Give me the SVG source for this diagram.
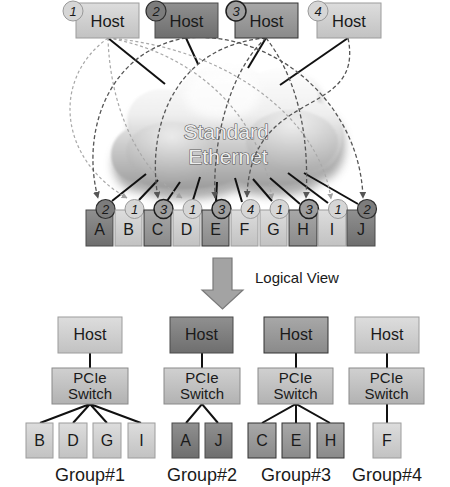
<svg xmlns="http://www.w3.org/2000/svg" width="450" height="487" viewBox="0 0 450 487">
<defs>
<linearGradient id="gLight" x1="0" y1="0" x2="0" y2="1"><stop offset="0" stop-color="#dddddd"/><stop offset="1" stop-color="#c2c2c2"/></linearGradient>
<linearGradient id="gDark" x1="0" y1="0" x2="0" y2="1"><stop offset="0" stop-color="#909090"/><stop offset="1" stop-color="#6e6e6e"/></linearGradient>
<linearGradient id="gMed" x1="0" y1="0" x2="0" y2="1"><stop offset="0" stop-color="#a8a8a8"/><stop offset="1" stop-color="#8a8a8a"/></linearGradient>
<linearGradient id="gSw" x1="0" y1="0" x2="0" y2="1"><stop offset="0" stop-color="#d0d0d0"/><stop offset="1" stop-color="#b2b2b2"/></linearGradient>
<linearGradient id="gCloud" x1="0" y1="0" x2="0" y2="1"><stop offset="0" stop-color="#ffffff"/><stop offset="0.4" stop-color="#efefef"/><stop offset="1" stop-color="#9c9c9c"/></linearGradient>
<radialGradient id="gLobe" cx="0.5" cy="0.25" r="0.75"><stop offset="0" stop-color="#f6f6f6"/><stop offset="1" stop-color="#a8a8a8"/></radialGradient>
<filter id="soft" x="-20%" y="-20%" width="140%" height="140%"><feGaussianBlur stdDeviation="0.8"/></filter>
<filter id="shadow" x="-20%" y="-20%" width="140%" height="150%"><feGaussianBlur stdDeviation="5"/></filter>
<marker id="mL" viewBox="0 0 10 10" refX="9" refY="5" markerWidth="6" markerHeight="6" orient="auto" markerUnits="userSpaceOnUse"><path d="M0,0 L10,5 L0,10 Z" fill="#a0a0a0"/></marker>
<marker id="mD" viewBox="0 0 10 10" refX="9" refY="5" markerWidth="7" markerHeight="7" orient="auto" markerUnits="userSpaceOnUse"><path d="M0,0 L10,5 L0,10 Z" fill="#555555"/></marker>
<style>
text{font-family:"Liberation Sans",Arial,sans-serif;fill:#1a1a1a}
.lt{fill:url(#gLight);stroke:#9c9c9c;stroke-width:1}
.dk{fill:url(#gDark);stroke:#4a4a4a;stroke-width:1}
.md{fill:url(#gMed);stroke:#333333;stroke-width:1}
.sw{fill:url(#gSw);stroke:#8a8a8a;stroke-width:1}
.h{font-size:16.5px;text-anchor:middle}
.l{font-size:16px;text-anchor:middle}
.n{font-size:13px;font-style:italic;text-anchor:middle}
.c1{fill:#d6d6d6;stroke:#999999;stroke-width:1}
.c2{fill:#7c7c7c;stroke:#2e2e2e;stroke-width:1.2}
.c3{fill:#9e9e9e;stroke:#1e1e1e;stroke-width:1.5}
.solid{stroke:#111;stroke-width:2;fill:none}
.dl{stroke:#a8a8a8;stroke-width:1.2;fill:none;stroke-dasharray:3,2.5;marker-end:url(#mL)}
.dd{stroke:#555;stroke-width:1.3;fill:none;stroke-dasharray:4,2.5;marker-end:url(#mD)}
.tree{stroke:#111;stroke-width:2;fill:none}
.g{font-size:18px;text-anchor:middle}
.ct{font-size:21px;text-anchor:middle;fill:#ededed;stroke:#555555;stroke-width:1.1;paint-order:stroke}
</style>
</defs>
<rect width="450" height="487" fill="#ffffff"/>

<g id="cloud">
<path d="M140,186 C108,186 100,144 130,132 C122,104 150,86 178,96 C190,66 240,59 258,79 C280,62 325,76 318,106 C350,112 352,169 318,176 C305,194 250,192 235,184 C210,196 160,196 140,186 Z" fill="#666" opacity="0.55" filter="url(#shadow)" transform="translate(2,6)"/>
<path d="M140,182 C108,182 100,140 130,128 C122,100 150,82 178,92 C190,62 240,55 258,75 C280,58 325,72 318,102 C350,108 352,165 318,172 C305,190 250,188 235,180 C210,192 160,192 140,182 Z" fill="url(#gCloud)" filter="url(#soft)"/>
<ellipse cx="172" cy="152" rx="46" ry="30" fill="url(#gLobe)" opacity="0.65" filter="url(#soft)"/>
<ellipse cx="292" cy="142" rx="46" ry="32" fill="url(#gLobe)" opacity="0.55" filter="url(#soft)"/>
<ellipse cx="222" cy="95" rx="38" ry="24" fill="#ffffff" opacity="0.7" filter="url(#shadow)"/>
<text class="ct" x="226" y="139">Standard</text>
<text class="ct" x="228" y="164">Ethernet</text>
</g>

<g id="connectors">
<line class="solid" x1="108" y1="38" x2="165" y2="84"/>
<line class="solid" x1="186" y1="38" x2="198" y2="64"/>
<line class="solid" x1="266" y1="38" x2="248" y2="68"/>
<line class="solid" x1="348" y1="38" x2="280" y2="85"/>
<line class="solid" x1="146" y1="174" x2="112" y2="201"/>
<line class="solid" x1="158" y1="180" x2="139" y2="200"/>
<line class="solid" x1="180" y1="182" x2="167" y2="201"/>
<line class="solid" x1="200" y1="177" x2="193" y2="200"/>
<line class="solid" x1="217" y1="182" x2="216" y2="201"/>
<line class="solid" x1="235" y1="178" x2="242" y2="202"/>
<line class="solid" x1="253" y1="179" x2="272" y2="201"/>
<line class="solid" x1="270" y1="178" x2="300" y2="204"/>
<line class="solid" x1="288" y1="173" x2="328" y2="203"/>
<line class="solid" x1="304" y1="173" x2="358" y2="204"/>
<path class="dl" d="M108,38 C50,80 60,160 127,198"/>
<path class="dl" d="M108,38 C110,110 140,170 182,198"/>
<path class="dl" d="M108,38 C190,52 260,110 272,199"/>
<path class="dl" d="M108,38 C230,48 320,120 331,199"/>
<path class="dd" d="M186,38 C110,50 80,130 98,198"/>
<path class="dd" d="M186,38 C270,30 360,100 363,198"/>
<path class="dd" d="M266,38 C180,45 145,120 158,198"/>
<path class="dd" d="M266,38 C235,65 212,130 215,198"/>
<path class="dd" d="M266,38 C295,75 310,130 306,198"/>
<path class="dd" d="M348,38 C365,120 250,85 247,197"/>
<line class="tree" x1="90" y1="353" x2="90" y2="368"/>
<polyline class="tree" points="40,423 90,404 73,423"/>
<polyline class="tree" points="107,423 90,404 141,423"/>
<line class="tree" x1="202" y1="353" x2="202" y2="368"/>
<polyline class="tree" points="186,423 202,404 218,423"/>
<line class="tree" x1="296" y1="353" x2="296" y2="368"/>
<polyline class="tree" points="262,423 296,404 330,423"/>
<line class="tree" x1="296" y1="404" x2="296" y2="423"/>
<line class="tree" x1="387" y1="353" x2="387" y2="368"/>
<line class="tree" x1="387" y1="404" x2="387" y2="423"/>
</g>

<g id="host1"><rect class="lt" x="76" y="3" width="63" height="35"/><text class="h" x="107.5" y="27">Host</text><circle class="c1" cx="73" cy="11" r="10"/><text class="n" x="73" y="16">1</text></g>
<g id="host2"><rect class="dk" x="155" y="3" width="63" height="35"/><text class="h" x="186.5" y="27">Host</text><circle class="c2" cx="156" cy="11" r="10"/><text class="n" x="156" y="16">2</text></g>
<g id="host3"><rect class="md" x="235" y="3" width="63" height="35"/><text class="h" x="266.5" y="27">Host</text><circle class="c3" cx="236" cy="11" r="10"/><text class="n" x="236" y="16">3</text></g>
<g id="host4"><rect class="lt" x="317" y="3" width="64" height="35"/><text class="h" x="349" y="27">Host</text><circle class="c1" cx="318" cy="11" r="10"/><text class="n" x="318" y="16">4</text></g>

<g id="portA"><rect class="dk" x="86" y="210" width="27" height="36"/><text class="l" x="99.5" y="235">A</text><circle class="c2" cx="105.5" cy="209" r="9.5"/><text class="n" x="105.5" y="214">2</text></g>
<g id="portB"><rect class="lt" x="115" y="210" width="27" height="36"/><text class="l" x="128.5" y="235">B</text><circle class="c1" cx="134.5" cy="209" r="9.5"/><text class="n" x="134.5" y="214">1</text></g>
<g id="portC"><rect class="md" x="144" y="210" width="27" height="36"/><text class="l" x="157.5" y="235">C</text><circle class="c3" cx="163.5" cy="209" r="9.5"/><text class="n" x="163.5" y="214">3</text></g>
<g id="portD"><rect class="lt" x="173" y="210" width="27" height="36"/><text class="l" x="186.5" y="235">D</text><circle class="c1" cx="192.5" cy="209" r="9.5"/><text class="n" x="192.5" y="214">1</text></g>
<g id="portE"><rect class="md" x="202" y="210" width="27" height="36"/><text class="l" x="215.5" y="235">E</text><circle class="c3" cx="221.5" cy="209" r="9.5"/><text class="n" x="221.5" y="214">3</text></g>
<g id="portF"><rect class="lt" x="231" y="210" width="27" height="36"/><text class="l" x="244.5" y="235">F</text><circle class="c1" cx="250.5" cy="209" r="9.5"/><text class="n" x="250.5" y="214">4</text></g>
<g id="portG"><rect class="lt" x="260" y="210" width="27" height="36"/><text class="l" x="273.5" y="235">G</text><circle class="c1" cx="279.5" cy="209" r="9.5"/><text class="n" x="279.5" y="214">1</text></g>
<g id="portH"><rect class="md" x="289" y="210" width="28" height="36"/><text class="l" x="303" y="235">H</text><circle class="c3" cx="309" cy="209" r="9.5"/><text class="n" x="309" y="214">3</text></g>
<g id="portI"><rect class="lt" x="318" y="210" width="28" height="36"/><text class="l" x="332" y="235">I</text><circle class="c1" cx="338" cy="209" r="9.5"/><text class="n" x="338" y="214">1</text></g>
<g id="portJ"><rect class="dk" x="347" y="210" width="28" height="36"/><text class="l" x="361" y="235">J</text><circle class="c2" cx="367" cy="209" r="9.5"/><text class="n" x="367" y="214">2</text></g>

<g id="logical-arrow"><path d="M213,258 L232,258 L232,290 L243,290 L222.5,309 L202,290 L213,290 Z" fill="#a3a3a3" stroke="#7a7a7a" stroke-width="1.2"/><text x="255" y="283" style="font-size:15px">Logical View</text></g>

<g id="group1">
<rect class="lt" x="58" y="317" width="64" height="36"/><text class="l" x="90" y="340">Host</text>
<rect class="sw" x="52" y="368" width="76" height="36"/><text class="l" x="90" y="383" style="font-size:15px">PCIe</text><text class="l" x="90" y="399" style="font-size:15px">Switch</text>
<rect class="lt" x="26" y="423" width="27" height="35"/><text class="l" x="39.5" y="446">B</text>
<rect class="lt" x="59" y="423" width="28" height="35"/><text class="l" x="73" y="446">D</text>
<rect class="lt" x="93" y="423" width="28" height="35"/><text class="l" x="107" y="446">G</text>
<rect class="lt" x="128" y="423" width="27" height="35"/><text class="l" x="141.5" y="446">I</text>
<text class="g" x="90" y="481">Group#1</text>
</g>
<g id="group2">
<rect class="dk" x="170" y="317" width="63" height="36"/><text class="l" x="201.5" y="340">Host</text>
<rect class="sw" x="164" y="368" width="76" height="36"/><text class="l" x="202" y="383" style="font-size:15px">PCIe</text><text class="l" x="202" y="399" style="font-size:15px">Switch</text>
<rect class="dk" x="172" y="423" width="27" height="35"/><text class="l" x="185.5" y="446">A</text>
<rect class="dk" x="205" y="423" width="27" height="35"/><text class="l" x="218.5" y="446">J</text>
<text class="g" x="202" y="481">Group#2</text>
</g>
<g id="group3">
<rect class="md" x="264" y="317" width="64" height="36"/><text class="l" x="296" y="340">Host</text>
<rect class="sw" x="258" y="368" width="75" height="36"/><text class="l" x="295.5" y="383" style="font-size:15px">PCIe</text><text class="l" x="295.5" y="399" style="font-size:15px">Switch</text>
<rect class="md" x="248" y="423" width="28" height="35"/><text class="l" x="262" y="446">C</text>
<rect class="md" x="282" y="423" width="28" height="35"/><text class="l" x="296" y="446">E</text>
<rect class="md" x="317" y="423" width="27" height="35"/><text class="l" x="330.5" y="446">H</text>
<text class="g" x="296" y="481">Group#3</text>
</g>
<g id="group4">
<rect class="lt" x="355" y="317" width="64" height="36"/><text class="l" x="387" y="340">Host</text>
<rect class="sw" x="349" y="368" width="75" height="36"/><text class="l" x="386.5" y="383" style="font-size:15px">PCIe</text><text class="l" x="386.5" y="399" style="font-size:15px">Switch</text>
<rect class="lt" x="373" y="423" width="28" height="35"/><text class="l" x="387" y="446">F</text>
<text class="g" x="387" y="481">Group#4</text>
</g>
</svg>
